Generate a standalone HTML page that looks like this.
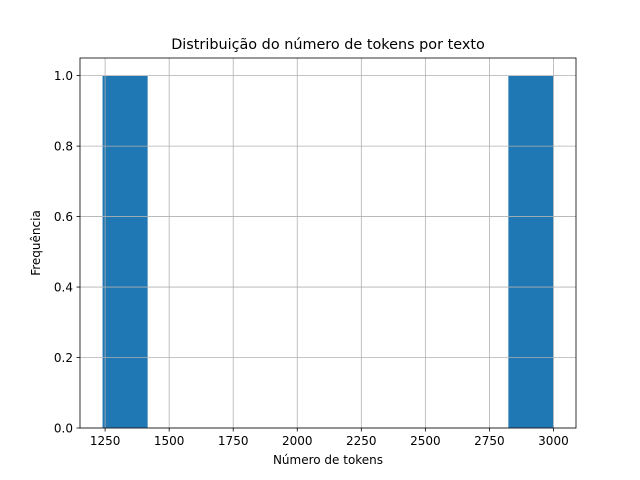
<!DOCTYPE html>
<html><head><meta charset="utf-8">
<style>
html,body{margin:0;padding:0;background:#fff;}
svg{display:block;font-family:"DejaVu Sans","Liberation Sans",sans-serif;}
</style></head>
<body>
<svg id="chart" width="640" height="480">
<rect width="640" height="480" fill="#fff"/>
<g id="bars"></g>
<g id="grid"></g>
<g id="axes"></g>
<text x="328" y="49" font-size="14.4" text-anchor="middle" fill="#000">Distribuição do número de tokens por texto</text>
<text x="328" y="464" font-size="12" text-anchor="middle" fill="#000">Número de tokens</text>
<text x="0" y="0" font-size="12" text-anchor="middle" fill="#000" transform="translate(40,243) rotate(-90)">Frequência</text>
</svg>
<script>
const values = [1240, 3000];
const binCount = 10;
const xTicks = [1250, 1500, 1750, 2000, 2250, 2500, 2750, 3000];
const yTicks = [0.0, 0.2, 0.4, 0.6, 0.8, 1.0];

const L = 80, R = 576, T = 58, B = 428;
const NS = "http://www.w3.org/2000/svg";
const vmin = Math.min(...values), vmax = Math.max(...values);
const bw = (vmax - vmin) / binCount;
const counts = new Array(binCount).fill(0);
values.forEach(v => { let i = Math.floor((v - vmin) / bw); if (i >= binCount) i = binCount - 1; counts[i]++; });
const pad = (vmax - vmin) * 0.05;
const x0 = vmin - pad, x1 = vmax + pad;
const ymax = Math.max(...counts) * 1.05;
const sx = v => L + (v - x0) / (x1 - x0) * (R - L);
const sy = v => B - v / ymax * (B - T);

function mk(tag, attrs, parent) {
  const e = document.createElementNS(NS, tag);
  for (const k in attrs) e.setAttribute(k, attrs[k]);
  parent.appendChild(e);
  return e;
}
const gb = document.getElementById('bars');
counts.forEach((c, i) => {
  if (c <= 0) return;
  const xa = sx(vmin + i * bw), xb = sx(vmin + (i + 1) * bw);
  const r = mk('rect', {x: xa, y: sy(c), width: xb - xa, height: B - sy(c), fill: '#1f77b4'}, gb);
  
  
});
const gg = document.getElementById('grid');
xTicks.forEach(t => {
  const l = mk('line', {x1: sx(t), x2: sx(t), y1: T, y2: B, stroke: '#b0b0b0', 'stroke-width': 0.8}, gg);
  
  
});
yTicks.forEach(t => {
  const l = mk('line', {x1: L, x2: R, y1: sy(t), y2: sy(t), stroke: '#b0b0b0', 'stroke-width': 0.8}, gg);
  
  
});
const ga = document.getElementById('axes');
const frame = mk('rect', {x: L, y: T, width: R - L, height: B - T, fill: 'none', stroke: '#000', 'stroke-width': 0.8}, ga);


xTicks.forEach(t => {
  const tk = mk('line', {x1: sx(t), x2: sx(t), y1: B, y2: B + 3.5, stroke: '#000', 'stroke-width': 0.8}, ga);
  
  
  const tx = mk('text', {x: sx(t), y: B + 17, 'font-size': 12, 'text-anchor': 'middle', fill: '#000'}, ga);
  tx.textContent = String(t);
  
  
});
yTicks.forEach(t => {
  const tk = mk('line', {x1: L - 3.5, x2: L, y1: sy(t), y2: sy(t), stroke: '#000', 'stroke-width': 0.8}, ga);
  
  
  const tx = mk('text', {x: L - 7, y: sy(t) + 4.3, 'font-size': 12, 'text-anchor': 'end', fill: '#000'}, ga);
  tx.textContent = t.toFixed(1);
  
  
});
</script>
</body></html>
